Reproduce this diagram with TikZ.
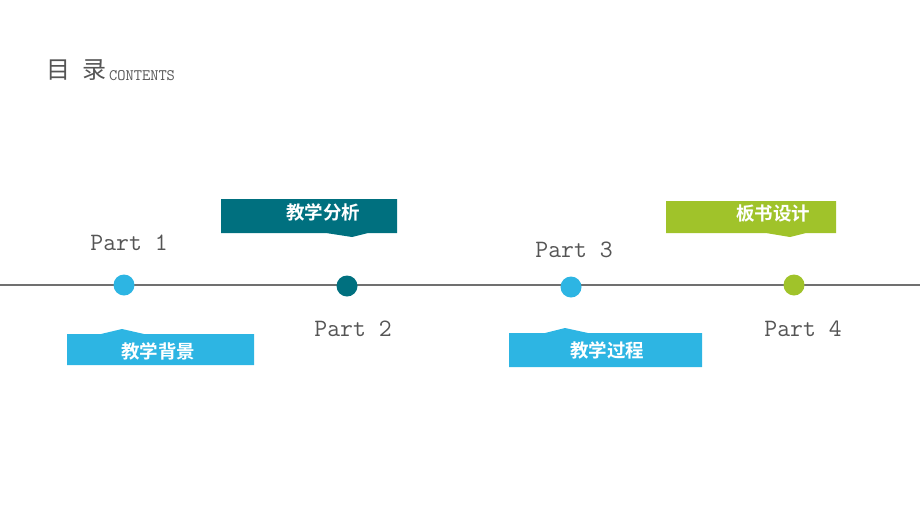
\documentclass[tikz,border=0pt]{standalone}
\usepackage{fontspec}
\newfontfamily\cjk{Noto Sans CJK SC}
\newfontfamily\cjkbold{Noto Sans CJK SC Bold}
\usetikzlibrary{calc}
\definecolor{skyblue}{HTML}{2DB5E3}
\definecolor{darkteal}{HTML}{00707F}
\definecolor{leafgreen}{HTML}{A0C32A}
\definecolor{linegray}{HTML}{707070}
\definecolor{textgray}{HTML}{555555}
\tikzset{
  dot/.style={circle,inner sep=0pt,minimum size=21pt},
  partlabel/.style={font=\ttfamily\fontsize{25}{25}\selectfont,text=textgray},
  tablabel/.style={font=\cjkbold\fontsize{18.5}{18.5}\selectfont,text=white}
}

\begin{document}
\begin{tikzpicture}[x=1pt,y=-1pt]
        \useasboundingbox (0,0) rectangle (920,517);
        % title
        \node (T) at (76,70) [text=textgray,font=\cjk\fontsize{24}{24}\selectfont] {目\hspace{0.5em}录};
        \node (TC) at (T.base east) [anchor=base west,xshift=-4pt,yshift=-2pt,text=textgray,font=\ttfamily\fontsize{16}{16}\selectfont] {CONTENTS};
        % timeline
        \coordinate (L) at (0,285);
        \coordinate (R) at (920,285);
        \draw[linegray,line width=1.5pt] (L) -- (R);
        \coordinate (A) at (124,285);
        \coordinate (B) at (347,286);
        \coordinate (C) at (571,287);
        \coordinate (D) at (794,285);
        \node (AA) at (A) [dot,fill=skyblue] {};
        \node (BB) at (B) [dot,fill=darkteal] {};
        \node (CC) at (C) [dot,fill=skyblue] {};
        \node (DD) at (D) [dot,fill=leafgreen] {};
        \node (PA) at (129,243) [partlabel] {Part 1};
        \node (PB) at (353,329) [partlabel] {Part 2};
        \node (PC) at (574,250) [partlabel] {Part 3};
        \node (PD) at (803,329) [partlabel] {Part 4};
        % tabs
        \fill[darkteal] (221,199) -- (397,199) -- (397,233) -- (368,233) -- (352,237) -- (326,233) -- (221,233) -- cycle;
        \fill[leafgreen] (666,201) -- (836,201) -- (836,233) -- (806,233) -- (790,237) -- (766,233) -- (666,233) -- cycle;
        \fill[skyblue] (67,334) -- (101,334) -- (122,329) -- (144,334) -- (254,334) -- (254,365) -- (67,365) -- cycle;
        \fill[skyblue] (509,333) -- (545,333) -- (565,328) -- (588,333) -- (702,333) -- (702,367) -- (509,367) -- cycle;
        \node (TA) at (158,351) [tablabel] {教学背景};
        \node (TB) at (323,212) [tablabel] {教学分析};
        \node (TCC) at (607,350) [tablabel] {教学过程};
        \node (TD) at (773,214) [tablabel] {板书设计};
    \end{tikzpicture}
\end{document}
